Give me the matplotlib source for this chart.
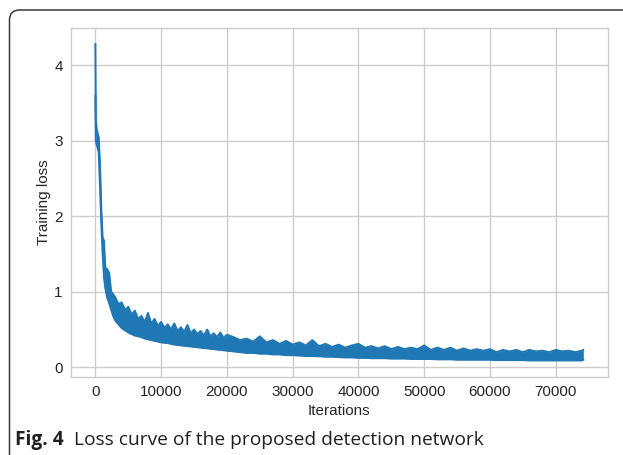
import matplotlib
matplotlib.use("Agg")
import matplotlib.pyplot as plt
from matplotlib.patches import FancyBboxPatch

# ---- data (band of the noisy loss curve) ----
iterations = [0, 60, 200, 500, 700, 900, 1100, 1300, 1500, 1800, 2100, 2400, 2700,
              3000, 3500, 4000, 4500, 5000, 5500, 6000, 6500, 7000, 7500, 8000, 8500,
              9000, 9500, 10000, 10500, 11000, 11500, 12000, 12500, 13000, 13500,
              14000, 14500, 15000, 15500, 16000, 16500, 17000, 17500, 18000, 18500,
              19000, 19500, 20000, 21000, 22000, 23000,
              24000, 25000, 26000, 27000, 28000, 29000, 30000, 31000, 32000, 33000,
              34000, 35000, 36000, 37000, 38000, 39000, 40000, 41000, 42000, 43000,
              44000, 45000, 46000, 47000, 48000, 49000, 50000, 51000, 52000, 53000,
              54000, 55000, 56000, 57000, 58000, 59000, 60000, 61000, 62000, 63000,
              64000, 65000, 66000, 67000, 68000, 69000, 70000, 71000, 72000, 73000,
              74000, 74200]
loss_upper = [4.28, 3.30, 3.15, 3.05, 2.70, 2.10, 1.72, 1.68, 1.32, 1.30, 1.25, 1.00, 0.97,
              0.93, 0.84, 0.86, 0.76, 0.80, 0.70, 0.75, 0.64, 0.68, 0.60, 0.72, 0.58,
              0.64, 0.55, 0.60, 0.52, 0.57, 0.50, 0.58, 0.48, 0.53, 0.47,
              0.56, 0.45, 0.50, 0.44, 0.48, 0.42, 0.50, 0.41, 0.45, 0.40,
              0.46, 0.39, 0.43, 0.40, 0.36, 0.38,
              0.34, 0.41, 0.33, 0.36, 0.31, 0.35, 0.30, 0.33, 0.29, 0.36,
              0.28, 0.31, 0.27, 0.30, 0.26, 0.29, 0.31, 0.26, 0.28, 0.25,
              0.28, 0.24, 0.27, 0.24, 0.26, 0.24, 0.29, 0.23, 0.26, 0.23,
              0.26, 0.22, 0.25, 0.22, 0.24, 0.22, 0.24, 0.20, 0.23, 0.21,
              0.23, 0.20, 0.23, 0.21, 0.22, 0.20, 0.23, 0.21, 0.22, 0.20,
              0.22, 0.23]
loss_lower = [3.60, 3.00, 2.95, 2.85, 2.40, 1.90, 1.50, 1.20, 1.05, 0.92, 0.85, 0.76, 0.68,
              0.62, 0.57, 0.52, 0.49, 0.46, 0.44, 0.42, 0.41, 0.40, 0.38, 0.37, 0.36,
              0.35, 0.34, 0.33, 0.325, 0.32, 0.31, 0.30, 0.295, 0.29, 0.285,
              0.28, 0.275, 0.27, 0.265, 0.26, 0.255, 0.25, 0.245, 0.24, 0.235,
              0.23, 0.225, 0.22, 0.21, 0.20, 0.19,
              0.19, 0.18, 0.18, 0.17, 0.17, 0.16, 0.16, 0.155, 0.15, 0.15,
              0.145, 0.14, 0.14, 0.135, 0.13, 0.13, 0.125, 0.125, 0.12, 0.12,
              0.12, 0.115, 0.115, 0.115, 0.11, 0.11, 0.11, 0.11, 0.105, 0.105,
              0.105, 0.10, 0.10, 0.10, 0.10, 0.10, 0.10, 0.095, 0.095, 0.095,
              0.095, 0.095, 0.09, 0.09, 0.09, 0.09, 0.09, 0.09, 0.09, 0.09,
              0.09, 0.10]
x_ticks = [0, 10000, 20000, 30000, 40000, 50000, 60000, 70000]
y_ticks = [0, 1, 2, 3, 4]
x_label = "Iterations"
y_label = "Training loss"
caption_bold = "Fig. 4"
caption_text = "Loss curve of the proposed detection network"

blue = "#1f77b4"
grid_c = "#cccccc"

fig = plt.figure(figsize=(6.23, 4.55), dpi=100)
fig.patch.set_facecolor("white")
ax = fig.add_axes([71 / 623, 1 - 376.5 / 455, (607.7 - 71) / 623, (376.5 - 28.3) / 455])
ax.set_facecolor("white")

ax.fill_between(iterations, loss_lower, loss_upper, color=blue, linewidth=0)
ax.plot(iterations, loss_upper, color=blue, lw=1.4)
ax.plot(iterations, loss_lower, color=blue, lw=1.4)

ax.set_xlim(-3710, 77910)
ax.set_ylim(-0.122, 4.49)
ax.set_xticks(x_ticks)
ax.set_yticks(y_ticks)
ax.grid(True, color=grid_c, lw=1.0)
ax.set_axisbelow(True)
for s in ax.spines.values():
    s.set_color(grid_c)
    s.set_linewidth(1.0)
ax.tick_params(length=0, labelsize=11, pad=6, labelcolor="#262626")
for lab in ax.get_xticklabels() + ax.get_yticklabels():
    lab.set_family(["Liberation Sans", "DejaVu Sans"])
ax.set_xlabel(x_label, fontsize=11, family=["Liberation Sans", "DejaVu Sans"],
              color="#262626", labelpad=4)
ax.set_ylabel(y_label, fontsize=11, family=["Liberation Sans", "DejaVu Sans"],
              color="#262626", labelpad=2)

# caption
t1 = fig.text(15 / 623, 1 - 445 / 455, caption_bold, fontsize=13.8, fontweight="bold",
              family=["Open Sans", "DejaVu Sans"], va="baseline", ha="left", color="#231f20")
fig.canvas.draw()
bb = t1.get_window_extent()
fig.text((bb.x1 + 10) / 623, 1 - 445 / 455, caption_text, fontsize=13.8,
         family=["Open Sans", "DejaVu Sans"], va="baseline", ha="left", color="#231f20")

# rounded frame (top-left corner visible)
frame = FancyBboxPatch((9.5, -60), 700, 455 - 10 + 60, boxstyle="round,pad=0,rounding_size=10",
                       transform=None, facecolor="none", edgecolor="#3a3a3a", lw=1.1)
fig.add_artist(frame)

fig.savefig("out.png", dpi=100)
